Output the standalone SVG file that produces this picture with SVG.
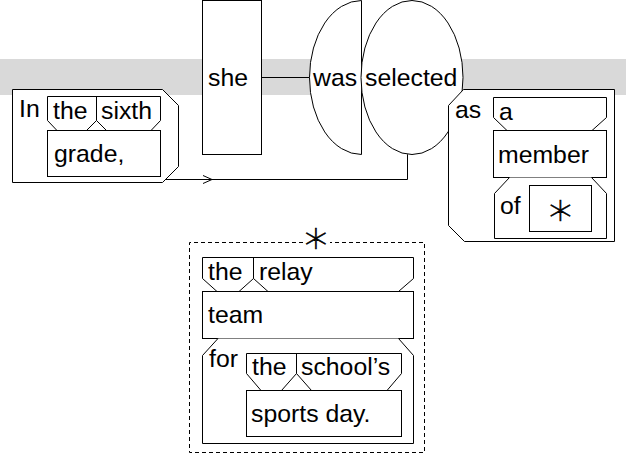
<svg xmlns="http://www.w3.org/2000/svg" width="626" height="453" viewBox="0 0 626 453">
<style>
.b{fill:#fff;stroke:#000;stroke-width:1}
.o{fill:none;stroke:#000;stroke-width:1}
.d{fill:none;stroke:#000;stroke-width:1;stroke-dasharray:4 3}
text{font-family:"Liberation Sans",Arial,sans-serif;font-size:24.8px;fill:#000}
.s{font-family:"DejaVu Sans",sans-serif;font-size:46px;font-weight:200;text-anchor:middle;stroke:#000;stroke-width:0.6}
</style>
<rect x="0" y="59" width="626" height="36" fill="#d9d9d9"/>
<g id="connectors">
<path class="o" d="M261.5,77.5 H309.5"/>
<path class="o" d="M407.5,154 V179.5 H164"/>
<path class="o" d="M203,175.5 L212,179.5 L203,183.5"/>
</g>
<g id="she">
<rect class="b" x="202.5" y="0.5" width="59" height="154"/>
<text x="208" y="86">she</text>
</g>
<g id="was">
<path class="b" d="M361.5,0.5 A52,77 0 0 0 361.5,154.5 Z"/>
<text x="313" y="86">was</text>
</g>
<g id="selected">
<ellipse class="b" cx="412" cy="77.5" rx="51" ry="77"/>
<text x="365" y="86">selected</text>
</g>
<g id="in-phrase">
<path class="b" d="M12.5,89.5 H162.5 L178.5,105.5 V166.5 L162.5,182.5 H12.5 Z"/>
<text x="19" y="117">In</text>
<path class="b" d="M57,130.5 L47.5,120.5 V96.5 H160.5 V120.5 L151,130.5 M96.5,96.5 V120.5 M86.5,130.5 L96.5,120.5 L106.5,130.5"/>
<text x="53" y="119">the</text>
<text x="101" y="119">sixth</text>
<rect class="b" x="47.5" y="130.5" width="113" height="46"/>
<text x="54" y="162">grade,</text>
</g>
<g id="as-phrase">
<path class="b" d="M463.5,89.5 H614.5 V241.5 H464.5 L448.5,225.5 V105.5 Z"/>
<text x="455" y="118">as</text>
<path class="b" d="M507,130.5 L493.5,117.5 V97.5 H606.5 V117.5 L592,130.5"/>
<text x="499" y="120">a</text>
<rect class="b" x="493.5" y="130.5" width="113" height="47"/>
<text x="498" y="163">member</text>
<path class="b" d="M509.5,177.5 L494.5,193.5 V238.5 H606.5 V193.5 L591.5,177.5"/>
<text x="500" y="214">of</text>
<rect class="b" x="529.5" y="185.5" width="62" height="46"/>
<text class="s" x="560.5" y="225">∗</text>
</g>
<g id="star-clause">
<path class="d" d="M303,242.5 H189.5 V452.5 H424.5 V242.5 H330"/>
<text class="s" x="316" y="253">∗</text>
<path class="b" d="M217,291.5 L202.5,278.5 V257.5 H413.5 V278.5 L398.5,291.5 M253.5,257.5 V278.5 M239,291.5 L253.5,278.5 L268,291.5"/>
<text x="208" y="280">the</text>
<text x="259" y="280">relay</text>
<rect class="b" x="202.5" y="291.5" width="211" height="47"/>
<text x="208" y="323">team</text>
<path class="b" d="M218,338.5 L202.5,355.5 V443.5 H413.5 V355.5 L398.5,338.5"/>
<text x="209" y="367">for</text>
<path class="b" d="M261,390.5 L246.5,373.5 V353.5 H401.5 V373.5 L387,390.5 M296.5,353.5 V373.5 M281.5,390.5 L296.5,373.5 L311.5,390.5"/>
<text x="252" y="375">the</text>
<text x="301" y="375">school’s</text>
<rect class="b" x="246.5" y="390.5" width="155" height="46"/>
<text x="251" y="422">sports day.</text>
</g>
</svg>
